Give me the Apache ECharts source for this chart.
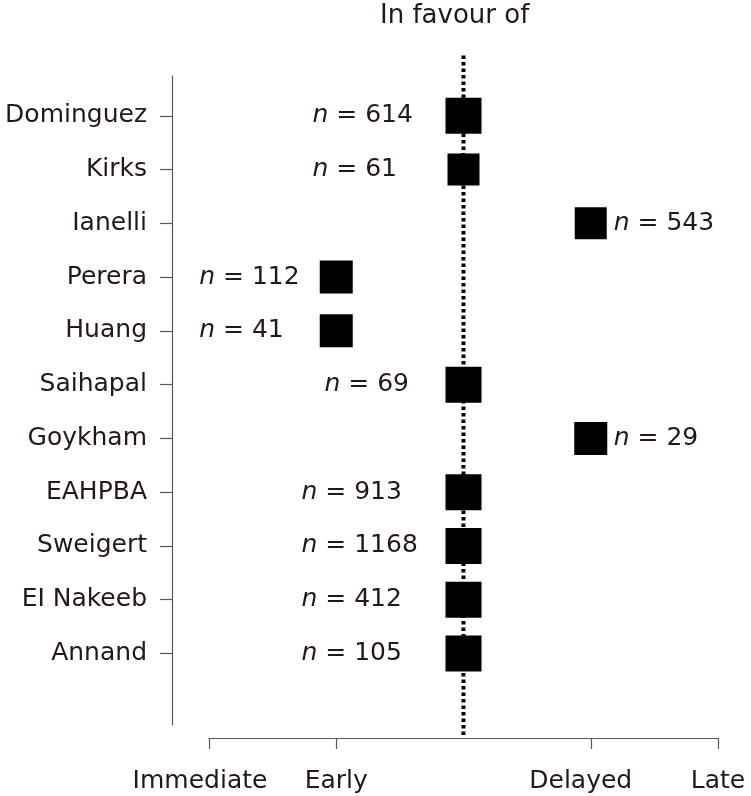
<!DOCTYPE html>
<html>
<head>
<meta charset="utf-8">
<script src="https://cdn.jsdelivr.net/npm/echarts@6/dist/echarts.min.js"></script>
<style>html,body{margin:0;padding:0;background:#fff}#c{width:751px;height:796px}</style>
</head>
<body>
<div id="c"></div>
<script>
// ---- data ----
const studies = ['Dominguez','Kirks','Ianelli','Perera','Huang','Saihapal','Goykham','EAHPBA','Sweigert','EI Nakeeb','Annand'];
const timingTicks = ['Immediate','Early','','Delayed','Late'];
const favourPosition = [2,2,3,1,1,2,3,2,2,2,2];   // index into timingTicks (2 = no difference)
const sampleSize = [614,61,543,112,41,69,29,913,1168,412,105];
const neutralPosition = 2;

// ---- styles (not data) ----
const labelDx = [-151,-151,23,-137,-137,-139,23,-162,-162,-162,-162];
const markerSize = [36,32,32,33,33,36,33,36,36,36,36];
const tickLabelPadRight = [18,0,0,20,0];
const FONT = 'DejaVu Sans';
const TXT = '#231815';
const AX = '#595757';

const chart = echarts.init(document.getElementById('c'));
const studyIdx = studies.map((s,i)=>i);
const tickIdx = timingTicks.map((t,i)=>i).filter(i=>timingTicks[i] !== '');
const tickRich = {};
timingTicks.forEach((t,i)=>{ tickRich['t'+i] = {padding:[0,tickLabelPadRight[i],0,0],
  fontFamily:FONT,fontSize:25,color:TXT}; });

chart.setOption({
  animation:false,
  title:{text:'In favour of', left:380, top:3, padding:0,
    textStyle:{fontFamily:FONT,fontSize:26,fontWeight:'normal',color:TXT}},
  grid:[
    {left:209,right:33,top:76,bottom:71},
    {left:209,right:33,top:53,bottom:61}
  ],
  xAxis:[
    {type:'value',gridIndex:0,min:0,max:timingTicks.length-1,offset:13,position:'bottom',
     axisLine:{show:true,onZero:false,lineStyle:{color:AX,width:1.2}},
     axisTick:{show:true,length:11,customValues:tickIdx,lineStyle:{color:AX,width:1.2}},
     axisLabel:{customValues:tickIdx,formatter:v=>'{t'+v+'|'+timingTicks[v]+'}',margin:31,
       rich:tickRich,fontFamily:FONT,fontSize:25,color:TXT},
     splitLine:{show:false}},
    {type:'value',gridIndex:1,min:0,max:timingTicks.length-1,show:false}
  ],
  yAxis:[
    {type:'value',gridIndex:0,inverse:true,min:-0.74,max:11.33,offset:37,position:'left',
     axisLine:{show:true,onZero:false,lineStyle:{color:AX,width:1.2}},
     axisTick:{show:true,length:12,customValues:studyIdx,lineStyle:{color:AX,width:1.2}},
     axisLabel:{customValues:studyIdx,formatter:v=>studies[v],margin:25,
       fontFamily:FONT,fontSize:25,color:TXT},
     splitLine:{show:false}},
    {type:'value',gridIndex:1,min:0,max:1,show:false}
  ],
  series:[
    {type:'line',xAxisIndex:1,yAxisIndex:1,z:1,symbol:'none',silent:true,
     data:[[neutralPosition,0],[neutralPosition,1]],
     lineStyle:{color:'#000',width:4,type:[3.5,3],cap:'butt'}},
    {type:'scatter',xAxisIndex:0,yAxisIndex:0,z:5,symbol:'rect',
     symbolSize:(v,p)=>markerSize[p.dataIndex],
     itemStyle:{color:'#000',opacity:1},
     data:studies.map((s,i)=>({value:[favourPosition[i],i],
       label:{align:'left',offset:[labelDx[i],0]}})),
     label:{show:true,position:'inside',
       formatter:p=>'{i|n} = '+sampleSize[p.dataIndex],
       fontFamily:FONT,fontSize:25,color:TXT,opacity:1,
       rich:{i:{fontStyle:'italic',fontFamily:FONT,fontSize:25,color:TXT}}}
    }
  ]
});
</script>
</body>
</html>
